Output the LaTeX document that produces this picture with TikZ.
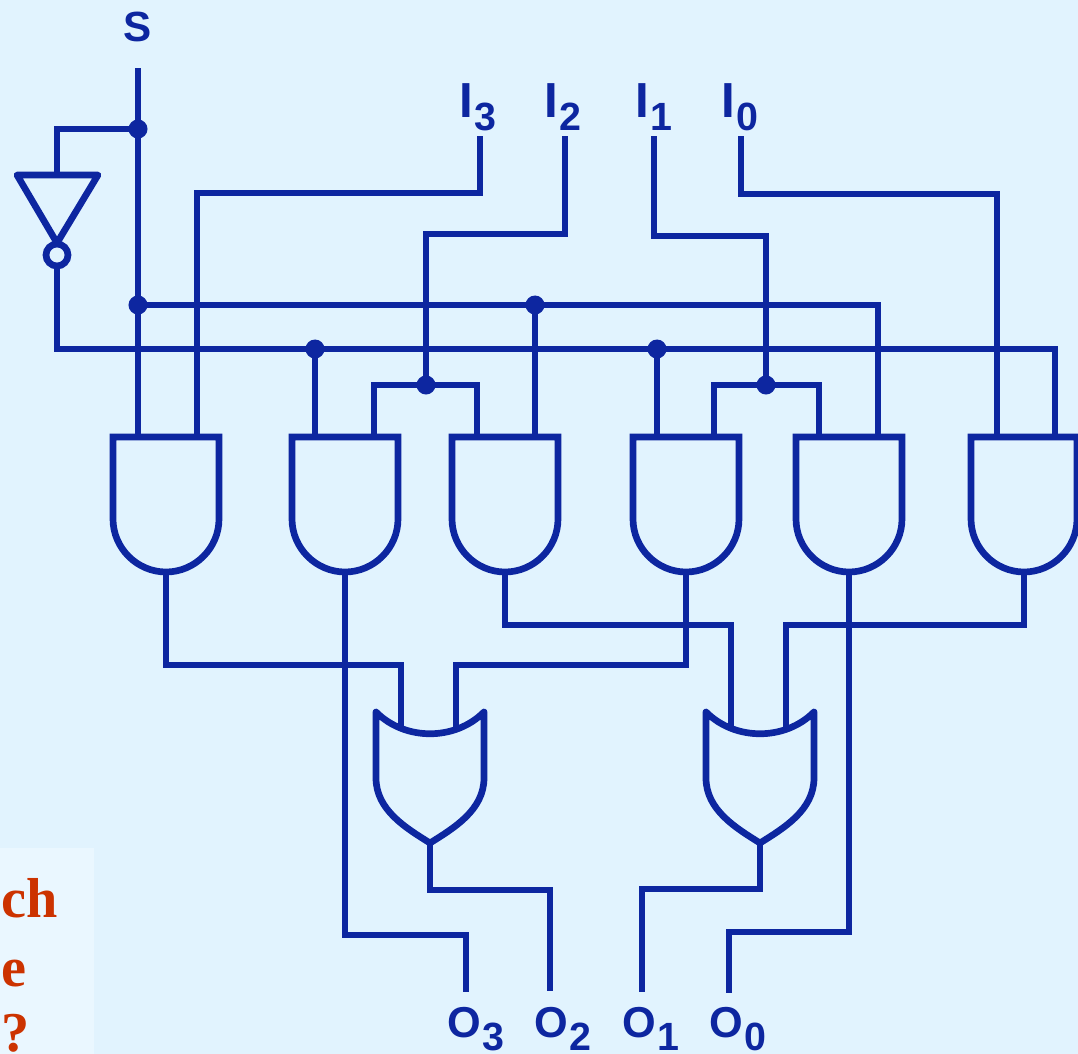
\documentclass[tikz,border=0pt]{standalone}
\usepackage{fontspec}
\setmainfont{Liberation Sans}
\newfontfamily\serifbold[Scale=1]{Liberation Serif}
\definecolor{wireblue}{HTML}{0D26A0}
\definecolor{paneblue}{HTML}{E1F3FE}
\definecolor{patchblue}{HTML}{EAF7FF}
\definecolor{notered}{HTML}{CC3300}
\newcommand{\pinlabel}[3]{{\fontsize{#3}{#3}\bfseries\selectfont #1}\hspace{0.2pt}\raisebox{-3.7pt}{\fontsize{11.2}{11.2}\bfseries\selectfont #2}}
\tikzset{
    wire/.style={draw=wireblue,line width=1.9pt},
    jointdot/.style={circle,fill=wireblue,inner sep=0pt,outer sep=0pt,minimum size=0.19cm},
    pinname/.style={text=wireblue,anchor=base west,inner sep=0pt},
    notechar/.style={text=notered,anchor=base west,inner sep=0pt,font=\serifbold\bfseries\fontsize{16}{16}\selectfont},
    andgate/.pic={
        \draw[wire] (-53,0) -- (53,0) -- (53,82) .. controls (53,111) and (29,135) .. (0,135) .. controls (-29,135) and (-53,111) .. (-53,82) -- cycle;
        \coordinate (-top) at (0,0);
        \coordinate (-out) at (0,135);
    },
    orgate/.pic={
        \draw[wire,line join=round] (-54,0) .. controls (-25,29) and (25,29) .. (54,0) -- (54,66) .. controls (54,98) and (24,116) .. (0,131) .. controls (-24,116) and (-54,98) .. (-54,66) -- cycle;
        \coordinate (-a) at (-29,17);
        \coordinate (-b) at (26,17);
        \coordinate (-out) at (0,131);
    },
    invgate/.pic={
        \draw[wire,line join=round] (-40,0) -- (41,0) -- (0,68) -- cycle;
        \draw[wire] (0,80) circle[radius=11];
        \coordinate (-top) at (0,0);
        \coordinate (-out) at (0,91);
    },
}
\begin{document}
\begin{tikzpicture}[x=0.01cm,y=-0.01cm]
    \fill[paneblue] (0,0) rectangle (1078,1054);
    \useasboundingbox (0,0) rectangle (1078,1054);
    \fill[patchblue] (0,848) rectangle (94,1054);

    % gates
    \pic (inv) at (57,175) {invgate};
    \pic (g1) at (166,437) {andgate};
    \pic (g2) at (345,437) {andgate};
    \pic (g3) at (505,437) {andgate};
    \pic (g4) at (686,437) {andgate};
    \pic (g5) at (849,437) {andgate};
    \pic (g6) at (1024,437) {andgate};
    \pic (or1) at (430,712) {orgate};
    \pic (or2) at (760,712) {orgate};

    % wire ends
    \coordinate (sel) at (138,68);
    \coordinate (i3) at (480,136);
    \coordinate (i2) at (565,136);
    \coordinate (i1) at (654,136);
    \coordinate (i0) at (741,136);
    \coordinate (o3) at (466,992);
    \coordinate (o2) at (550,991);
    \coordinate (o1) at (642,992);
    \coordinate (o0) at (729,993);
    \coordinate (g1b) at (197,437);
    \coordinate (g2b) at (374,437);
    \coordinate (g3b) at (477,437);
    \coordinate (g4b) at (714,437);
    \coordinate (g5b) at (819,437);
    \coordinate (g5c) at (878,437);
    \coordinate (g6a) at (997,437);
    \coordinate (g6b) at (1055,437);
    \coordinate (enb) at (1055,349);

    % joints
    \node[jointdot] (js1) at (138,129) {};
    \node[jointdot] (js2) at (138,305) {};
    \node[jointdot] (ja) at (535,305) {};
    \node[jointdot] (jb) at (315,349) {};
    \node[jointdot] (jc) at (657,349) {};
    \node[jointdot] (jd) at (426,385) {};
    \node[jointdot] (je) at (766,385) {};

    % select lines
    \draw[wire] (sel) -- (sel |- g1-top);
    \draw[wire] (js1.center) -| (inv-top);
    \draw[wire] (js2.center) -| (g5c);
    \draw[wire] (inv-out) |- (enb) -- (g6b);
    \draw[wire] (ja.center) -- (ja |- g3-top);
    \draw[wire] (jb.center) -- (jb |- g2-top);
    \draw[wire] (jc.center) -- (jc |- g4-top);

    % inputs
    \draw[wire] (i3) -- ++(0,57) -| (g1b);
    \draw[wire] (i2) -- ++(0,98) -| (jd.center);
    \draw[wire] (i1) -- ++(0,100) -| (je.center);
    \draw[wire] (i0) -- ++(0,58) -| (g6a);
    \draw[wire] (g2b) |- (jd.center) -| (g3b);
    \draw[wire] (g4b) |- (je.center) -| (g5b);

    % outputs
    \draw[wire] (g1-out) -- ++(0,93) -| (or1-a);
    \draw[wire] (g4-out) -- ++(0,93) -| (or1-b);
    \draw[wire] (g3-out) -- ++(0,53) -| (or2-a);
    \draw[wire] (g6-out) -- ++(0,53) -| (or2-b);
    \draw[wire] (g2-out) -- ++(0,363) -| (o3);
    \draw[wire] (g5-out) -- ++(0,360) -| (o0);
    \draw[wire] (or1-out) -- ++(0,47) -| (o2);
    \draw[wire] (or2-out) -- ++(0,46) -| (o1);

    % labels
    \node[pinname,font=\bfseries\fontsize{12}{12}\selectfont] (lsel) at (123,41) {S};
    \node[pinname] (li3) at (459,117) {\pinlabel{I}{3}{14}};
    \node[pinname] (li2) at (544,117) {\pinlabel{I}{2}{14}};
    \node[pinname] (li1) at (635,117) {\pinlabel{I}{1}{14}};
    \node[pinname] (li0) at (721,117) {\pinlabel{I}{0}{14}};
    \node[pinname] (lo3) at (447,1037) {\pinlabel{O}{3}{12.3}};
    \node[pinname] (lo2) at (534,1037) {\pinlabel{O}{2}{12.3}};
    \node[pinname] (lo1) at (622,1037) {\pinlabel{O}{1}{12.3}};
    \node[pinname] (lo0) at (709,1037) {\pinlabel{O}{0}{12.3}};
    \node[notechar] (nch) at (1,917) {ch};
    \node[notechar] (ne) at (1,986) {e};
    \node[notechar] (nq) at (1,1051) {?};
\end{tikzpicture}
\end{document}
